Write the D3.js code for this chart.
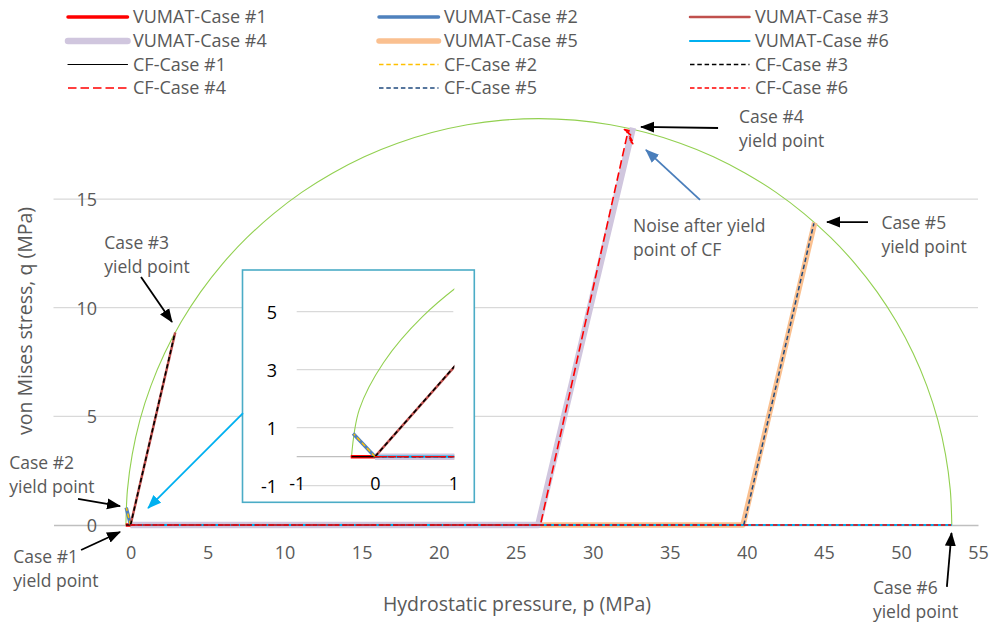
<!DOCTYPE html>
<html>
<head>
<meta charset="utf-8">
<script src="https://cdn.jsdelivr.net/npm/d3@7"></script>
<style>
  body { margin: 0; background: #fff; }
  svg { display: block; font-family: "Open Sans", sans-serif; }
</style>
</head>
<body>
<svg id="chart" width="992" height="623"></svg>
<script>
// ---- stress paths, [p, q] in MPa ----
const vumatCase1 = [[0, 0], [-0.31, 0]];
const vumatCase2 = [[0, 0], [-0.28, 0.80]];
const vumatCase3 = [[0, 0], [2.90, 8.86]];
const vumatCase4 = [[0, 0], [26.46, 0], [32.60, 18.28]];
const vumatCase5 = [[0, 0], [39.75, 0], [44.40, 13.92]];
const vumatCase6 = [[0, 0], [53.30, 0]];

const cfCase1 = [[0, 0], [-0.30, 0]];
const cfCase2 = [[0, 0], [-0.27, 0.78]];
const cfCase3 = [[0, 0], [2.88, 8.84]];
const cfCase4 = [[0, 0], [26.60, 0], [32.20, 17.85], [32.35, 18.15], [32.05, 18.20],
                 [32.45, 17.95], [32.20, 18.10], [32.55, 17.70], [32.30, 17.85],
                 [32.60, 17.55], [32.40, 17.70]];
const cfCase5 = [[0, 0], [39.80, 0], [44.35, 13.88]];
const cfCase6 = [[0, 0], [53.25, 0]];

// yield surface (p, q)
const yieldP = [-0.30, -0.20, 0.11, 0.61, 1.32, 2.21, 3.29, 4.55, 5.97, 7.55, 9.27, 11.13,
                13.10, 15.17, 17.33, 19.56, 21.85, 24.16, 26.50, 28.84, 31.15, 33.44, 35.67,
                37.83, 39.90, 41.87, 43.73, 45.45, 47.03, 48.45, 49.71, 50.79, 51.68, 52.39,
                52.89, 53.20, 53.30];
const yieldQ = [0, 1.63, 3.25, 4.84, 6.40, 7.90, 9.35, 10.73, 12.02, 13.22, 14.32, 15.32,
                16.19, 16.95, 17.57, 18.06, 18.42, 18.63, 18.70, 18.63, 18.42, 18.06, 17.57,
                16.95, 16.19, 15.32, 14.32, 13.22, 12.02, 10.73, 9.35, 7.90, 6.40, 4.84,
                3.25, 1.63, 0];

// ticks
const xTicks = [0, 5, 10, 15, 20, 25, 30, 35, 40, 45, 50, 55];
const yTicks = [0, 5, 10, 15];
const insetXTicks = [-1, 0, 1];
const insetYTicks = [-1, 1, 3, 5];

// legend / series labels
const seriesNames = ["VUMAT-Case #1", "VUMAT-Case #2", "VUMAT-Case #3",
                     "VUMAT-Case #4", "VUMAT-Case #5", "VUMAT-Case #6",
                     "CF-Case #1", "CF-Case #2", "CF-Case #3",
                     "CF-Case #4", "CF-Case #5", "CF-Case #6"];

// ---- styles ----
const FONT = 18;
const NOTE_FONT = 17.5;
const TITLE_FONT = 19.5;
const TEXT = "#595959";
const styles = {
  "VUMAT-Case #1": { data: vumatCase1, color: "#ff0000", width: 3.5 },
  "VUMAT-Case #2": { data: vumatCase2, color: "#4f81bd", width: 3.5 },
  "VUMAT-Case #3": { data: vumatCase3, color: "#c0504d", width: 2.5 },
  "VUMAT-Case #4": { data: vumatCase4, color: "#d0c6de", width: 6.5 },
  "VUMAT-Case #5": { data: vumatCase5, color: "#fac090", width: 5.5 },
  "VUMAT-Case #6": { data: vumatCase6, color: "#00b0f0", width: 2.2 },
  "CF-Case #1":    { data: cfCase1, color: "#000000", width: 1.2 },
  "CF-Case #2":    { data: cfCase2, color: "#ffc000", width: 1.5, dash: "4.5,2.8" },
  "CF-Case #3":    { data: cfCase3, color: "#000000", width: 1.6, dash: "4.5,2.8" },
  "CF-Case #4":    { data: cfCase4, color: "#ff0000", width: 1.6, dash: "8.5,4" },
  "CF-Case #5":    { data: cfCase5, color: "#1f497d", width: 1.5, dash: "4.5,2.8" },
  "CF-Case #6":    { data: cfCase6, color: "#ff0000", width: 1.3, dash: "4.5,2.8" }
};
// paint order: Case #5 band sits under the Case #4 band along q = 0
const drawOrder = ["VUMAT-Case #5", "VUMAT-Case #4", "VUMAT-Case #1", "VUMAT-Case #2",
                   "VUMAT-Case #3", "VUMAT-Case #6", "CF-Case #1", "CF-Case #2",
                   "CF-Case #3", "CF-Case #4", "CF-Case #5", "CF-Case #6"];

const svg = d3.select("#chart");

// ---- main scales ----
const x = d3.scaleLinear().domain([-5, 55]).range([53.5, 978]);
const y = d3.scaleLinear().domain([0, 20]).range([525, 90.4]);

// arrow heads
const defs = svg.append("defs");
[["arrowBlack", "#000000"], ["arrowBlue", "#4a7ebb"], ["arrowCyan", "#00b0f0"]].forEach(([id, c]) => {
  defs.append("marker")
    .attr("id", id).attr("markerUnits", "userSpaceOnUse")
    .attr("viewBox", "0 -6 14 12").attr("refX", 13).attr("refY", 0)
    .attr("markerWidth", 14).attr("markerHeight", 12).attr("orient", "auto")
    .append("path").attr("d", "M0,-5.5L14,0L0,5.5Z").attr("fill", c);
});

const plain = d => String(d);

// ---- grid ----
svg.append("g").selectAll("line").data(yTicks.filter(d => d !== 0)).join("line")
  .attr("x1", x(-5)).attr("x2", x(55))
  .attr("y1", d => y(d)).attr("y2", d => y(d))
  .attr("stroke", "#d9d9d9").attr("stroke-width", 1.2);

// x axis
const xAxis = svg.append("g").attr("transform", `translate(0,${y(0)})`)
  .call(d3.axisBottom(x).tickValues(xTicks).tickFormat(plain).tickSize(0).tickPadding(0));
xAxis.select(".domain").attr("stroke", "#bfbfbf").attr("stroke-width", 1.3);
xAxis.selectAll("text").attr("y", 28).attr("dy", "0.36em")
  .attr("fill", TEXT).style("font-size", FONT + "px").style("font-family", "Open Sans");

// y axis labels
const yAxis = svg.append("g").attr("transform", `translate(97,0)`)
  .call(d3.axisLeft(y).tickValues(yTicks).tickFormat(plain).tickSize(0).tickPadding(0));
yAxis.select(".domain").remove();
yAxis.selectAll("text").attr("dy", "0.36em")
  .attr("fill", TEXT).style("font-size", FONT + "px").style("font-family", "Open Sans");

// axis titles
svg.append("text").attr("x", 517).attr("y", 611).attr("text-anchor", "middle")
  .attr("fill", TEXT).style("font-size", TITLE_FONT + "px").text("Hydrostatic pressure, p (MPa)");
svg.append("text").attr("transform", "translate(32,321) rotate(-90)").attr("text-anchor", "middle")
  .attr("fill", TEXT).style("font-size", TITLE_FONT + "px").text("von Mises stress, q (MPa)");

// ---- series ----
const yieldPts = yieldP.map((p, i) => [p, yieldQ[i]]);

function drawSeries(g, sx, sy) {
  const curve = d3.line().x(d => sx(d[0])).y(d => sy(d[1])).curve(d3.curveCatmullRom.alpha(0.5));
  g.append("path").attr("d", curve(yieldPts))
    .attr("fill", "none").attr("stroke", "#92d050").attr("stroke-width", 1.1);
  const line = d3.line().x(d => sx(d[0])).y(d => sy(d[1]));
  drawOrder.forEach(name => {
    const s = styles[name];
    g.append("path").attr("d", line(s.data))
      .attr("fill", "none").attr("stroke", s.color).attr("stroke-width", s.width)
      .attr("stroke-dasharray", s.dash || null)
      .attr("stroke-linejoin", "round");
  });
}
drawSeries(svg.append("g"), x, y);

// ---- legend ----
const legendCols = [68, 379, 690];
const legendRows = [17, 41, 64.5, 88];
const legend = svg.append("g");
seriesNames.forEach((name, i) => {
  const s = styles[name];
  const lx = legendCols[i % 3], ly = legendRows[Math.floor(i / 3)];
  legend.append("line").attr("x1", lx).attr("x2", lx + 59.5).attr("y1", ly).attr("y2", ly)
    .attr("stroke", s.color).attr("stroke-width", s.width)
    .attr("stroke-dasharray", s.dash || null).attr("stroke-linecap", s.dash ? "butt" : "round");
  legend.append("text").attr("x", lx + 65).attr("y", ly).attr("dy", "0.36em")
    .attr("fill", TEXT).style("font-size", FONT + "px").text(name);
});

// ---- annotations (positions in p, q units) ----
const notes = [
  { lines: ["Case #4", "yield point"], at: [39.49, 18.78], from: [38.13, 18.27], to: [33.13, 18.32], arrow: "arrowBlack", color: "#000" },
  { lines: ["Noise after yield", "point of CF"], at: [32.61, 13.76], from: [36.96, 14.96], to: [33.45, 17.26], arrow: "arrowBlue", color: "#4a7ebb" },
  { lines: ["Case #5", "yield point"], at: [48.73, 13.90], from: [47.86, 13.94], to: [45.20, 13.94], arrow: "arrowBlack", color: "#000" },
  { lines: ["Case #3", "yield point"], at: [-1.70, 12.98], from: [0.68, 11.41], to: [2.69, 9.34], arrow: "arrowBlack", color: "#000" },
  { lines: ["Case #2", "yield point"], at: [-7.87, 2.85], from: [-3.41, 1.20], to: [-0.68, 0.87], arrow: "arrowBlack", color: "#000" },
  { lines: ["Case #1", "yield point"], at: [-7.61, -1.47], from: [-3.21, -1.15], to: [-0.68, -0.32], arrow: "arrowBlack", color: "#000" },
  { lines: ["Case #6", "yield point"], at: [48.18, -2.90], from: [52.98, -2.85], to: [53.28, -0.37], arrow: "arrowBlack", color: "#000" }
];
const ann = svg.append("g");
notes.forEach(n => {
  ann.append("line")
    .attr("x1", x(n.from[0])).attr("y1", y(n.from[1]))
    .attr("x2", x(n.to[0])).attr("y2", y(n.to[1]))
    .attr("stroke", n.color).attr("stroke-width", 1.8)
    .attr("marker-end", `url(#${n.arrow})`);
  n.lines.forEach((t, k) => {
    ann.append("text").attr("x", x(n.at[0])).attr("y", y(n.at[1]) + k * 24)
      .attr("dy", "0.36em").attr("fill", TEXT).style("font-size", NOTE_FONT + "px").text(t);
  });
});

// ---- inset: zoom around the origin ----
const inset = svg.append("g");
const ix = d3.scaleLinear().domain([-1, 1]).range([296.7, 453.3]);
const iy = d3.scaleLinear().domain([-1, 6]).range([485.7, 282.7]);
const boxX0 = 242.5, boxY0 = 270, boxX1 = 474.3, boxY1 = 502.3;

// pointer from the inset to the origin
svg.append("line")
  .attr("x1", x(7.30)).attr("y1", y(5.15)).attr("x2", x(1.14)).attr("y2", y(0.78))
  .attr("stroke", "#00b0f0").attr("stroke-width", 1.8).attr("marker-end", "url(#arrowCyan)");

inset.append("rect").attr("x", boxX0).attr("y", boxY0)
  .attr("width", boxX1 - boxX0).attr("height", boxY1 - boxY0)
  .attr("fill", "#fff").attr("stroke", "#4bacc6").attr("stroke-width", 1.6);

inset.append("g").selectAll("line").data(insetYTicks).join("line")
  .attr("x1", ix(-1)).attr("x2", ix(1))
  .attr("y1", d => iy(d)).attr("y2", d => iy(d))
  .attr("stroke", "#d9d9d9").attr("stroke-width", 1.2);
inset.append("line").attr("x1", ix(-1)).attr("x2", ix(1))
  .attr("y1", iy(0)).attr("y2", iy(0)).attr("stroke", "#bfbfbf").attr("stroke-width", 1.3);

const iyAxis = inset.append("g").attr("transform", "translate(277,0)")
  .call(d3.axisLeft(iy).tickValues(insetYTicks).tickFormat(plain).tickSize(0).tickPadding(0));
iyAxis.select(".domain").remove();
iyAxis.selectAll("text").attr("dy", "0.36em").attr("fill", "#000")
  .style("font-size", FONT + "px").style("font-family", "Open Sans");

const ixAxis = inset.append("g").attr("transform", "translate(0,484)")
  .call(d3.axisBottom(ix).tickValues(insetXTicks).tickFormat(plain).tickSize(0).tickPadding(0));
ixAxis.select(".domain").remove();
ixAxis.selectAll("text").attr("y", 0).attr("dy", "0.36em").attr("fill", "#000")
  .style("font-size", FONT + "px").style("font-family", "Open Sans");

defs.append("clipPath").attr("id", "insetClip").append("rect")
  .attr("x", ix(-1)).attr("y", iy(6)).attr("width", ix(1) - ix(-1) + 1).attr("height", iy(-1) - iy(6));
drawSeries(inset.append("g").attr("clip-path", "url(#insetClip)"), ix, iy);
</script>
</body>
</html>
